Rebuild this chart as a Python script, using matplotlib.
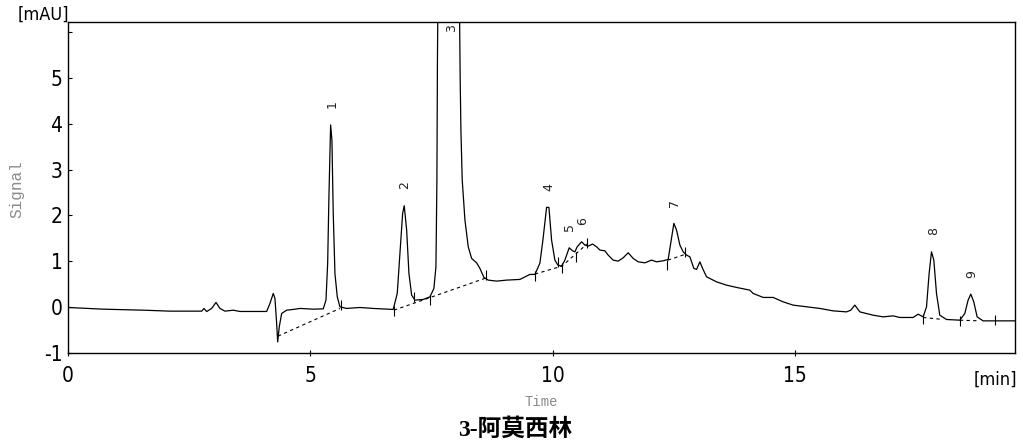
import matplotlib
matplotlib.use("Agg")
import matplotlib.pyplot as plt
from matplotlib import font_manager

# ---------------- data ----------------
time_min = [0.000, 0.728, 1.553, 2.103, 2.757, 2.804, 2.860, 2.963, 3.052, 3.134,
            3.237, 3.408, 3.546, 4.097, 4.165, 4.233, 4.268, 4.303, 4.324, 4.357,
            4.406, 4.509, 4.645, 4.784, 5.058, 5.264, 5.320, 5.355, 5.381, 5.416,
            5.443, 5.470, 5.505, 5.553, 5.608, 5.746, 6.021, 6.295, 6.707, 6.790,
            6.845, 6.901, 6.934, 6.984, 7.031, 7.087, 7.155, 7.326, 7.464, 7.546,
            7.588, 7.608, 7.619, 7.629, 7.835, 8.072, 8.088, 8.103, 8.130, 8.186,
            8.254, 8.324, 8.427, 8.495, 8.577, 8.666, 8.839, 9.045, 9.320, 9.526,
            9.629, 9.732, 9.794, 9.870, 9.918, 9.973, 10.041, 10.103, 10.179, 10.247,
            10.336, 10.406, 10.454, 10.501, 10.592, 10.660, 10.728, 10.819, 10.901, 10.969,
            11.072, 11.140, 11.243, 11.346, 11.449, 11.553, 11.656, 11.759, 11.897, 12.035,
            12.138, 12.274, 12.377, 12.447, 12.495, 12.550, 12.619, 12.687, 12.757, 12.825,
            12.907, 12.963, 13.031, 13.087, 13.169, 13.375, 13.581, 13.788, 14.062, 14.130,
            14.336, 14.542, 14.748, 14.955, 15.231, 15.505, 15.780, 16.056, 16.144, 16.227,
            16.330, 16.604, 16.810, 17.016, 17.155, 17.429, 17.532, 17.635, 17.705, 17.759,
            17.808, 17.856, 17.911, 17.979, 18.117, 18.392, 18.495, 18.563, 18.619, 18.680,
            18.749, 18.872, 19.216, 19.526]
signal_mau = [-0.007, -0.044, -0.066, -0.087, -0.087, -0.028, -0.096, -0.028, 0.103, -0.028,
              -0.087, -0.066, -0.094, -0.094, 0.081, 0.299, 0.190, -0.356, -0.758, -0.430,
              -0.138, -0.066, -0.050, -0.028, -0.044, -0.037, 0.153, 0.954, 2.408, 3.974,
              3.646, 2.046, 0.736, 0.225, 0.007, -0.028, -0.007, -0.028, -0.050, 0.299,
              1.172, 2.046, 2.212, 1.681, 0.736, 0.262, 0.153, 0.168, 0.225, 0.408,
              0.880, 2.773, 5.393, 6.700, 7.200, 6.700, 4.956, 3.865, 2.773, 1.900,
              1.317, 1.063, 0.967, 0.845, 0.648, 0.590, 0.568, 0.590, 0.605, 0.714,
              0.714, 0.961, 1.463, 2.177, 2.177, 1.463, 1.026, 0.917, 0.895, 1.026,
              1.295, 1.229, 1.207, 1.317, 1.426, 1.354, 1.332, 1.376, 1.317, 1.245,
              1.229, 1.135, 1.026, 1.004, 1.076, 1.186, 1.063, 0.989, 0.967, 1.026,
              0.989, 1.011, 1.041, 1.500, 1.828, 1.681, 1.354, 1.207, 1.135, 1.098,
              0.845, 0.823, 0.989, 0.845, 0.662, 0.552, 0.480, 0.430, 0.371, 0.299,
              0.212, 0.212, 0.116, 0.044, 0.007, -0.028, -0.081, -0.103, -0.066, 0.044,
              -0.103, -0.175, -0.212, -0.190, -0.225, -0.225, -0.153, -0.212, 0.007, 0.736,
              1.207, 1.026, 0.299, -0.175, -0.269, -0.284, -0.138, 0.153, 0.284, 0.116,
              -0.212, -0.299, -0.299, -0.299]

# integration baselines (dashed), one list per segment
baseline_t = [[4.330, 5.608], [6.722, 8.612], [9.629, 10.186, 10.701],
              [12.371, 12.742], [17.635, 18.047], [18.392, 18.804]]
baseline_y = [[-0.633, -0.028], [-0.066, 0.633], [0.721, 0.895, 1.376],
              [1.026, 1.157], [-0.225, -0.269], [-0.284, -0.299]]

# integration event marks
mark_t = [5.629, 6.728, 7.134, 7.464, 8.612, 9.629, 10.103, 10.186, 10.474,
          10.695, 12.345, 12.722, 17.635, 18.392, 19.113]
mark_y = [0.044, -0.087, 0.218, 0.153, 0.699, 0.677, 0.983, 0.852, 1.092,
          1.397, 0.917, 1.201, -0.262, -0.306, -0.284]

# peaks
peak_ids = ['1', '2', '3', '4', '5', '6', '7', '8', '9']
peak_rt = [5.44, 6.95, 7.92, 9.91, 10.34, 10.62, 12.50, 17.85, 18.63]
peak_height = [3.97, 2.21, 7.20, 2.18, 1.30, 1.43, 1.83, 1.21, 0.28]

x_ticks = [0, 5, 10, 15]
y_ticks = [-1, 0, 1, 2, 3, 4, 5, 6]
y_ticklabels = ['-1', '0', '1', '2', '3', '4', '5', '']

title = '3-阿莫西林'

# ---------------- fonts ----------------
avail = {f.name for f in font_manager.fontManager.ttflist}
if 'Liberation Sans Narrow' in avail:
    narrow = dict(family='Liberation Sans Narrow')
else:
    narrow = dict(family='DejaVu Sans', fontstretch='condensed')

# ---------------- figure ----------------
fig = plt.figure(figsize=(10.23, 4.47), dpi=100)
ax = fig.add_axes([68 / 1023, 94 / 447, 947 / 1023, 331 / 447])

ax.plot(time_min, signal_mau, color='black', lw=0.9, solid_joinstyle='round')
for bt, by in zip(baseline_t, baseline_y):
    ax.plot(bt, by, color='black', lw=0.8, ls=(0, (3, 3)))
ax.plot(mark_t, mark_y, ls='none', marker='|', color='black', ms=7, mew=0.8)

ylim_top = 6.22
for pid, rt, h in zip(peak_ids, peak_rt, peak_height):
    ax.text(rt, min(h + 0.45, ylim_top - 0.14), pid, rotation=90, ha='center',
            va='center', fontsize=9, color='#222222', family='DejaVu Sans')

ax.set_xlim(0, 19.53)
ax.set_ylim(-1.0, ylim_top)
ax.set_xticks(x_ticks)
ax.set_xticklabels([str(v) for v in x_ticks], fontsize=15, **narrow)
ax.set_yticks(y_ticks)
ax.set_yticklabels(y_ticklabels, fontsize=15, **narrow)
ax.tick_params(axis='y', direction='in', length=3, width=0.8, pad=4)
ax.tick_params(axis='x', direction='inout', length=5, width=0.8, pad=7)
for s in ax.spines.values():
    s.set_linewidth(1.0)

fig.text(43 / 1023, 1 - 15 / 447, '[mAU]', ha='center', va='center',
         fontsize=13, **narrow)
fig.text(995 / 1023, 1 - 380 / 447, '[min]', ha='center', va='center',
         fontsize=13, **narrow)
fig.text(17 / 1023, 1 - 189 / 447, 'Signal', rotation=90, ha='center', va='center',
         family='Liberation Mono', fontsize=11.5, color='#8a8a8a')
fig.text(541 / 1023, 1 - 402 / 447, 'Time', ha='center', va='center',
         family='Liberation Mono', fontsize=10, color='#8a8a8a')
fig.text(515 / 1023, 1 - 430 / 447, title, ha='center', va='center',
         family=['Liberation Serif', 'Noto Sans CJK SC'], fontweight='bold', fontsize=17)

fig.savefig('out.png', dpi=100)
